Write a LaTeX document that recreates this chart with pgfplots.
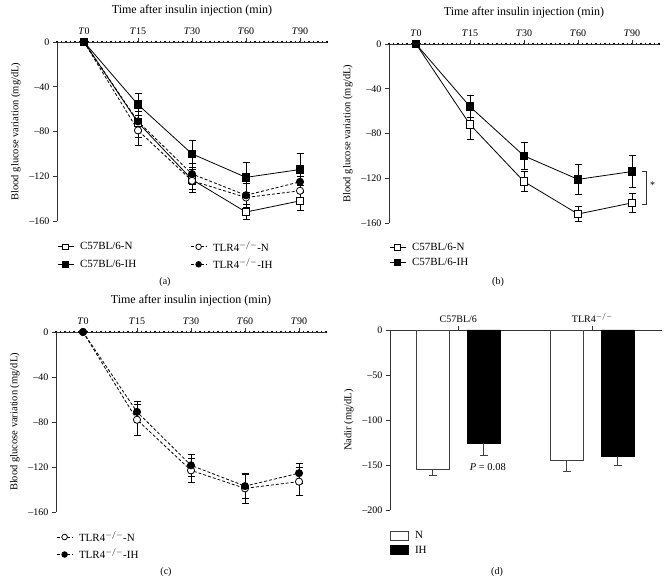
\documentclass[border=0pt]{standalone}
\usepackage{fontspec}
\setmainfont{Liberation Serif}
\usepackage{pgfplots}
\pgfplotsset{compat=1.18}

\pgfplotsset{
  base/.style={
    scale only axis,
    font=\fontsize{10}{11}\selectfont,
    axis x line=top, axis y line=left,
    axis line style={-, black!80, line width=0.9pt},
    tick style={black!80, line width=0.8pt},
    tick align=outside, major tick length=4pt,
    clip=false,
    ylabel style={font=\fontsize{10.5}{12}\selectfont, yshift=2pt},
    xlabel style={font=\fontsize{12}{13}\selectfont, yshift=5pt},
    legend cell align=left,
    legend style={draw=none, fill=none, inner sep=0pt, font=\fontsize{11}{12}\selectfont,
      /tikz/every odd column/.append style={column sep=4pt}},
  },
  lc/.style={base,
    width=270pt, height=179pt,
    xmin=-0.5, xmax=4.5, ymin=-160, ymax=0,
    xtick={0,1,2,3,4},
    xticklabels={\textit{T}0,\textit{T}15,\textit{T}30,\textit{T}60,\textit{T}90},
    ytick={-160,-120,-80,-40,0},
    yticklabels={--160,--120,--80,--40,0},
    minor xtick={-0.5,-0.41667,...,4.5},
    minor tick length=2.6pt,
    minor x tick style={line width=1.1pt, black, yshift=-1.3pt},
    xlabel={Time after insulin injection (min)},
    ylabel={Blood glucose variation (mg/dL)},
    legend image code/.code={\draw[mark repeat=2, mark phase=2, #1, mark size=2.8pt]
      plot coordinates {(0pt,0pt) (8pt,0pt) (16pt,0pt)};},
  },
  eb/.style={error bars/.cd, y dir=both, y explicit,
    error bar style={line width=0.8pt, black, solid},
    error mark options={rotate=90, mark size=3.5pt, line width=0.8pt, black, solid}},
  c57n/.style={black, line width=0.8pt, mark=square*, mark size=3.8pt, mark options={fill=white, solid}, eb},
  c57ih/.style={black, line width=0.8pt, mark=square*, mark size=3.8pt, mark options={fill=black, solid}, eb},
  tlrn/.style={black, line width=0.8pt, dash pattern=on 3pt off 2pt, mark=*, mark size=3.6pt, mark options={fill=white, solid}, eb},
  tlrih/.style={black, line width=0.8pt, dash pattern=on 3pt off 2pt, mark=*, mark size=3.6pt, mark options={fill=black, solid}, eb},
}

\begin{document}
\begin{tikzpicture}[x=1pt,y=1pt]
\path[use as bounding box] (0,0) rectangle (668,583);

% ---------------- (a)
\begin{axis}[lc, at={(57pt,362pt)}, anchor=south west,
  legend columns=2,
  legend style={at={(0,-0.1)}, anchor=north west,
    /tikz/every even column/.append style={column sep=52pt}, row sep=2pt}]
\addplot[c57n] coordinates {(0,0) +- (0,0) (1,-72) +- (0,13) (2,-123) +- (0,9) (3,-152) +- (0,7) (4,-142) +- (0,8.5)};
\addlegendentry{C57BL/6-N}
\addplot[tlrn] coordinates {(0,0) +- (0,0) (1,-79) +- (0,13) (2,-124) +- (0,10) (3,-139) +- (0,13) (4,-133) +- (0,12.5)};
\addlegendentry{TLR4$^{-/-}$-N}
\addplot[c57ih] coordinates {(0,0) +- (0,0) (1,-56) +- (0,10) (2,-100) +- (0,12) (3,-121) +- (0,13.5) (4,-114) +- (0,14)};
\addlegendentry{C57BL/6-IH}
\addplot[tlrih] coordinates {(0,0) +- (0,0) (1,-71) +- (0,9) (2,-118) +- (0,9.5) (3,-137) +- (0,10.5) (4,-125) +- (0,9)};
\addlegendentry{TLR4$^{-/-}$-IH}
\end{axis}

% ---------------- (b)
\begin{axis}[lc, at={(389pt,360pt)}, anchor=south west,
  legend style={at={(0,-0.1)}, anchor=north west, row sep=2pt}]
\addplot[c57n] coordinates {(0,0) +- (0,0) (1,-72) +- (0,13) (2,-123) +- (0,9) (3,-152) +- (0,7) (4,-142) +- (0,8.5)};
\addlegendentry{C57BL/6-N}
\addplot[c57ih] coordinates {(0,0) +- (0,0) (1,-56) +- (0,10) (2,-100) +- (0,12) (3,-121) +- (0,13.5) (4,-114) +- (0,14)};
\addlegendentry{C57BL/6-IH}
\draw[black!80, line width=0.8pt] (axis cs:4.19,-114) -- (axis cs:4.26,-114) -- (axis cs:4.26,-143) -- (axis cs:4.19,-143);
\node at (axis cs:4.38,-126) {*};
\end{axis}

% ---------------- (c)
\begin{axis}[lc, at={(56pt,71pt)}, anchor=south west, height=180pt,
  legend style={at={(0,-0.095)}, anchor=north west, row sep=2pt}]
\addplot[tlrn] coordinates {(0,0) +- (0,0) (1,-78) +- (0,14) (2,-123) +- (0,10.5) (3,-139) +- (0,13) (4,-133) +- (0,12.5)};
\addlegendentry{TLR4$^{-/-}$-N}
\addplot[tlrih] coordinates {(0,0) +- (0,0) (1,-71) +- (0,9) (2,-118.5) +- (0,9.5) (3,-137) +- (0,10.5) (4,-125.5) +- (0,9)};
\addlegendentry{TLR4$^{-/-}$-IH}
\end{axis}

% ---------------- (d)
\begin{axis}[base, at={(390pt,73pt)}, anchor=south west,
  width=272pt, height=180pt,
  xmin=0.49, xmax=2.52, ymin=-200, ymax=0,
  xtick={1,2}, xticklabels={C57BL/6, TLR4$^{-/-}$},
  ticklabel style={font=\fontsize{10}{11}\selectfont},
  ytick={-200,-150,-100,-50,0},
  yticklabels={--200,--150,--100,--50,0},
  ylabel={Nadir (mg/dL)},
  legend style={at={(0,-0.105)}, anchor=north west, row sep=2pt},
  legend image code/.code={\draw[#1] (0pt,-4.5pt) rectangle (18pt,4.5pt);},
  ]
\addplot[ybar, bar width=33pt, bar shift=0pt, fill=white, draw=black!75, line width=0.8pt,
  error bars/.cd, y dir=minus, y explicit,
  error bar style={line width=0.8pt, black!75},
  error mark options={rotate=90, mark size=4pt, line width=0.8pt, black!75}]
  coordinates {(0.81,-155) -= (0,6) (1.81,-145) -= (0,12)};
\addlegendentry{N}
\addplot[ybar, bar width=33pt, bar shift=0pt, fill=black, draw=black, line width=0.8pt,
  error bars/.cd, y dir=minus, y explicit,
  error bar style={line width=0.8pt, black!75},
  error mark options={rotate=90, mark size=4pt, line width=0.8pt, black!75}]
  coordinates {(1.19,-126) -= (0,13) (2.19,-140) -= (0,10)};
\addlegendentry{IH}
\node[font=\fontsize{10.5}{12}\selectfont] at (axis cs:1.22,-152) {\textit{P} = 0.08};
\end{axis}

\node[font=\fontsize{10}{12}\selectfont] at (165,301) {(a)};
\node[font=\fontsize{10}{12}\selectfont] at (498,301) {(b)};
\node[font=\fontsize{10}{12}\selectfont] at (166,11) {(c)};
\node[font=\fontsize{10}{12}\selectfont] at (497,11) {(d)};
\end{tikzpicture}
\end{document}
